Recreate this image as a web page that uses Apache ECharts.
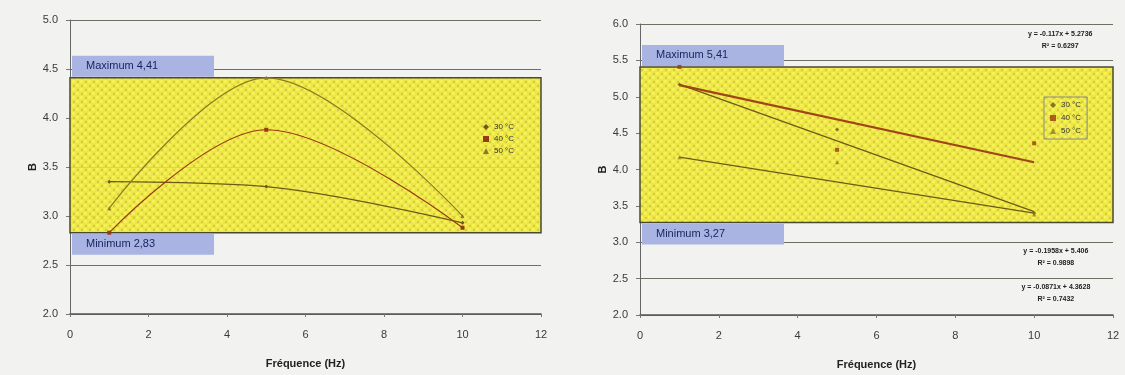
<!DOCTYPE html>
<html><head><meta charset="utf-8">
<script src="https://cdn.jsdelivr.net/npm/echarts@6/dist/echarts.min.js"></script>
<style>html,body{margin:0;padding:0;background:#f2f2f0}#c{width:1125px;height:375px}</style>
</head><body><div id="c"></div>
<script>
// ---- data ----
const xTicks = [0, 2, 4, 6, 8, 10, 12];
const freq = [1, 5, 10];
const left30 = [3.35, 3.30, 2.93];
const left40 = [2.83, 3.88, 2.88];
const left50 = [3.08, 4.41, 3.00];
const leftMax = 4.41, leftMin = 2.83;

const right30 = [5.17, 4.55, 3.40];
const right40 = [5.41, 4.27, 4.36];
const right50 = [4.17, 4.10, 3.38];
const trend30 = [[1, 5.17], [10, 3.42]];
const trend40 = [[1, 5.16], [10, 4.10]];
const trend50 = [[1, 4.17], [10, 3.40]];
const rightMax = 5.41, rightMin = 3.27;
const eqTop = 'y = -0.117x + 5.2736\nR² = 0.6297';
const eq30 = 'y = -0.1958x + 5.406\nR² = 0.9898';
const eq50 = 'y = -0.0871x + 4.3628\nR² = 0.7432';
const names = ['30 °C', '40 °C', '50 °C'];

// ---- pattern ----
const pc = document.createElement('canvas'); pc.width = 8; pc.height = 8;
const g = pc.getContext('2d');
g.fillStyle = 'rgba(236,228,48,0.9)'; g.fillRect(0,0,8,8);
g.fillStyle = 'rgba(248,242,84,0.95)'; g.fillRect(0,0,3,3); g.fillRect(4,4,3,3);
g.fillStyle = 'rgba(208,200,78,0.9)'; g.fillRect(5,1,2,2); g.fillRect(1,5,2,2);
const pattern = {image: pc, repeat: 'repeat'};

const cols = ['#6e5a16', '#9a3a12', '#8d7a22'];
const font = 'Liberation Sans';

function zip(xs, ys){ return xs.map((x,i)=>[x, ys[i]]); }

function band(max, min){
  return {
    silent: true,
    itemStyle: {color: pattern, borderColor: '#4a4a30', borderWidth: 1.5},
    data: [[{yAxis: max}, {yAxis: min}]]
  };
}
function boxLabels(max, min){
  const lab = {show: true, backgroundColor: '#a9b4e2', color: '#17235e', fontSize: 11, fontFamily: font,
    padding: [5, 10, 5, 14], width: 118, distance: [2, 1]};
  return {
    silent: true, symbol: 'none', lineStyle: {color: 'rgba(0,0,0,0)', width: 0},
    data: [
      {yAxis: max, label: Object.assign({}, lab, {position: 'insideStartTop', formatter: 'Maximum ' + String(max).replace('.', ',')})},
      {yAxis: min, label: Object.assign({}, lab, {position: 'insideStartBottom', formatter: 'Minimum ' + String(min).replace('.', ',')})}
    ]
  };
}
function xAx(i){
  return {gridIndex: i, type: 'value', min: 0, max: 12, interval: 2,
    name: 'Fréquence (Hz)', nameLocation: 'middle', nameGap: 44,
    nameTextStyle: {fontWeight: 'bold', fontSize: 11, color: '#222', fontFamily: font},
    axisLine: {lineStyle: {color: '#555', width: 1.5}}, axisTick: {show: true, length: 3, lineStyle: {color: '#777'}},
    axisLabel: {margin: 15, fontSize: 11, color: '#3a3a3a', fontFamily: font},
    splitLine: {show: false}};
}
function yAx(i, max){
  return {gridIndex: i, type: 'value', min: 2, max: max, interval: 0.5,
    name: 'B', nameLocation: 'middle', nameGap: 32, nameRotate: 90,
    nameTextStyle: {fontWeight: 'bold', fontSize: 11, color: '#222', fontFamily: font},
    axisLine: {show: true, lineStyle: {color: '#666', width: 1}}, axisTick: {show: true, length: 4, lineStyle: {color: '#777'}},
    axisLabel: {margin: 12, fontSize: 11, color: '#3a3a3a', fontFamily: font, formatter: v => v.toFixed(1)},
    splitLine: {show: true, lineStyle: {color: '#6f6f62', width: 1}}};
}
function eqPoint(coord, text){
  return {coord: coord, symbolSize: 0, label: {show: true, formatter: text, fontSize: 7, fontWeight: 'bold',
    color: '#222', fontFamily: font, align: 'center', lineHeight: 12, position: 'inside'}};
}

const series = [];
// left chart
[left30, left40, left50].forEach((d, i) => {
  const s = {name: names[i], type: 'line', xAxisIndex: 0, yAxisIndex: 0, smooth: 0.35,
    data: zip(freq, d), symbol: ['diamond','rect','triangle'][i], symbolSize: 4, showSymbol: true,
    lineStyle: {color: cols[i], width: 1.2}, itemStyle: {color: cols[i]}, z: 5};
  if (i === 0) { s.markArea = band(leftMax, leftMin); s.markLine = boxLabels(leftMax, leftMin); }
  series.push(s);
});
// right chart
[right30, right40, right50].forEach((d, i) => {
  const s = {name: names[i] + ' ', type: 'scatter', xAxisIndex: 1, yAxisIndex: 1,
    data: zip(freq, d), symbol: ['diamond','rect','triangle'][i], symbolSize: 4,
    itemStyle: {color: cols[i]}, z: 6};
  if (i === 0) {
    s.markArea = band(rightMax, rightMin); s.markLine = boxLabels(rightMax, rightMin);
    s.markPoint = {silent: true, symbol: 'circle', data: [
      eqPoint([10.66, 5.78], eqTop), eqPoint([10.55, 2.80], eq30), eqPoint([10.55, 2.30], eq50)]};
  }
  series.push(s);
});
[[trend30, '#6e5a16', 1.3], [trend40, '#a0451a', 2.2], [trend50, '#6e5a16', 1.3]].forEach(t => {
  series.push({type: 'line', xAxisIndex: 1, yAxisIndex: 1, data: t[0], symbol: 'none',
    lineStyle: {color: t[1], width: t[2]}, z: 5, silent: true});
});

const chart = echarts.init(document.getElementById('c'));
chart.setOption({
  animation: false,
  backgroundColor: '#f2f2f0',
  grid: [
    {left: 70, top: 20, width: 471, height: 294},
    {left: 640, top: 24, width: 473, height: 291}
  ],
  xAxis: [xAx(0), xAx(1)],
  yAxis: [yAx(0, 5), yAx(1, 6)],
  legend: [
    {data: names.map((n, i) => ({name: n, icon: ['diamond','rect','triangle'][i]})), orient: 'vertical', left: 478, top: 118, itemGap: 4, itemWidth: 6, itemHeight: 6,
      textStyle: {fontSize: 8, color: '#333', fontFamily: font}},
    {data: names.map((n, i) => ({name: n + ' ', icon: ['diamond','rect','triangle'][i]})), formatter: n => n.trim(), orient: 'vertical', left: 1044, top: 97, itemGap: 5,
      itemWidth: 6, itemHeight: 6, padding: [4, 6], borderColor: '#888', borderWidth: 1,
      textStyle: {fontSize: 8, color: '#333', fontFamily: font}}
  ],
  series: series
});
</script></body></html>
